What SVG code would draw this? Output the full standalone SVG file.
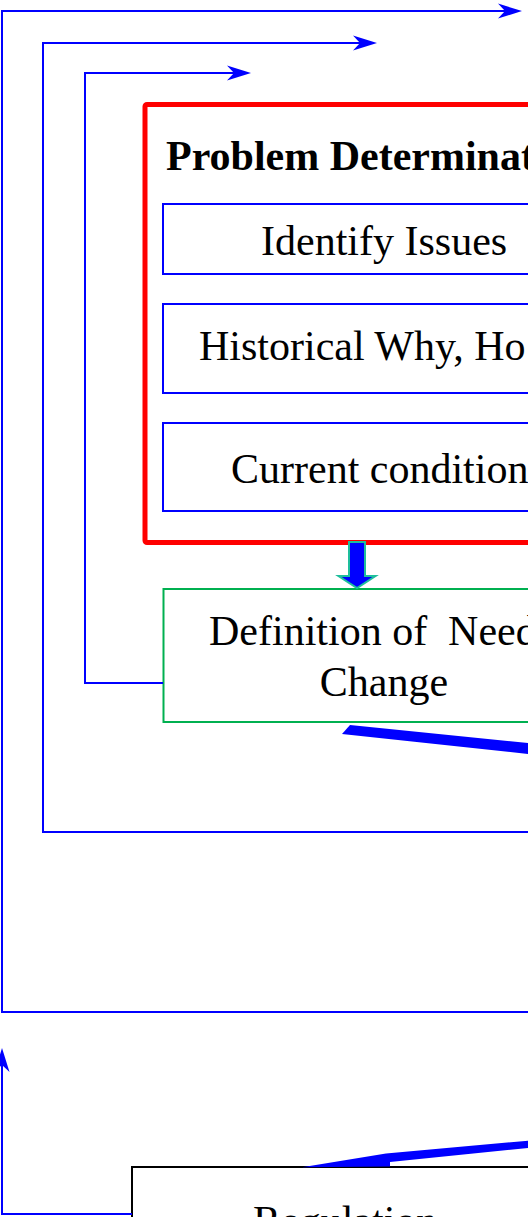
<svg xmlns="http://www.w3.org/2000/svg" width="528" height="1217" viewBox="0 0 528 1217">
  <style>
    .lbl { font-family: "Liberation Serif", "Times New Roman", serif; font-size: 42px; fill: #000; }
    .title { font-weight: bold; }
    .loop { fill: none; stroke: #0000FF; stroke-width: 2; stroke-linejoin: miter; marker-end: url(#notched); }
    .step { fill: #FFFFFF; stroke: #0000FF; stroke-width: 2; }
  </style>
  <defs>
    <marker id="notched" markerUnits="userSpaceOnUse" markerWidth="30" markerHeight="20" refX="-17" refY="0" orient="auto" overflow="visible">
      <path d="M0,0 L-24,-7.5 L-17,0 L-24,7.5 Z" fill="#0000FF"/>
    </marker>
  </defs>

  <rect width="528" height="1217" fill="#FFFFFF"/>

  <!-- outer black box -->
  <g id="regulation">
    <rect x="132" y="1167" width="520" height="120" fill="#FFFFFF" stroke="#000000" stroke-width="2"/>
    <text class="lbl" x="253" y="1235">Regulation</text>
  </g>

  <!-- problem determination group -->
  <g id="problem-determination">
    <rect x="145" y="104.5" width="600" height="438" rx="2" fill="#FFFFFF" stroke="#FF0000" stroke-width="5"/>
    <text class="lbl title" x="166" y="170">Problem Determinat</text>
  </g>

  <g id="identify-issues">
    <rect class="step" x="163" y="204" width="444" height="70"/>
    <text class="lbl" x="261" y="255">Identify Issues</text>
  </g>

  <g id="historical">
    <rect class="step" x="163" y="304" width="444" height="89"/>
    <text class="lbl" x="199" y="360">Historical Why, Ho</text>
  </g>

  <g id="current-conditions">
    <rect class="step" x="163" y="423" width="444" height="88"/>
    <text class="lbl" x="231" y="483">Current condition</text>
  </g>

  <g id="definition-of-need">
    <rect x="163.5" y="589" width="444" height="133" fill="#FFFFFF" stroke="#00B050" stroke-width="2"/>
    <text class="lbl" x="209" y="645" xml:space="preserve">Definition of  Need</text>
    <text class="lbl" x="384" y="696" text-anchor="middle">Change</text>
  </g>

  <!-- connectors -->
  <g id="connectors">
    <!-- feedback loops -->
    <path class="loop" d="M530,1012 H2 V11 H505"/>
    <path class="loop" d="M530,832 H43 V43 H360"/>
    <path class="loop" d="M163,683 H85 V73 H234"/>
    <path class="loop" d="M132,1214 H2 V1065"/>

    <!-- block arrow from problem determination to definition -->
    <polygon points="349,542 365,542 365,576 375.5,576 357,588 338.5,576 349,576" fill="#0000FF" stroke="#1EBE9C" stroke-width="2" stroke-linejoin="miter"/>

    <!-- thick link leaving the definition box -->
    <polygon points="350,725 530,743.2 530,754.2 342,734" fill="#0000FF"/>

    <!-- thick arrow into the regulation box -->
    <polygon points="302,1167.3 386,1153.5 530,1140.5 530,1147.8 390,1162 390,1166.5" fill="#0000FF"/>
  </g>
</svg>
